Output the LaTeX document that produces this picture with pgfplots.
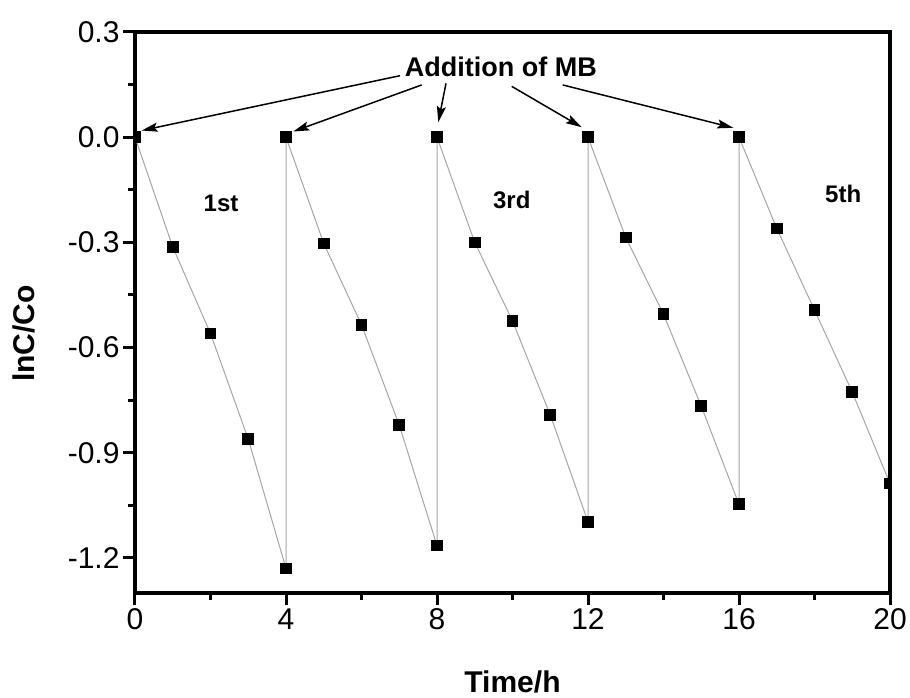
\documentclass[border=0pt]{standalone}
\usepackage{fontspec}
\setmainfont{Liberation Sans}
\usepackage{pgfplots}
\pgfplotsset{compat=1.18}
\usetikzlibrary{arrows.meta}
\pgfplotsset{
  every tick/.append style={line width=3pt, black},
  every major tick/.append style={line width=3pt, black},
  every minor tick/.append style={line width=3pt, black},
}

\begin{document}
\begin{tikzpicture}
\useasboundingbox (-135pt,-104pt) rectangle (775pt,593pt);
\begin{axis}[
    at={(0pt,0pt)}, anchor=south west,
    scale only axis,
    width=755pt, height=561pt,
    xmin=0, xmax=20, ymin=-1.3, ymax=0.3,
    xtick={0,4,...,20}, ytick={0.3,0,-0.3,-0.6,-0.9,-1.2},
    minor x tick num=1, minor y tick num=1,
    xtick pos=bottom, ytick pos=left,
    tick align=outside,
    major tick length=12pt, minor tick length=7pt,
    xtick style={line width=3pt, black},
    ytick style={line width=3pt, black},
    axis line style={line width=3.5pt},
    /pgf/number format/assume math mode=true,
    yticklabel style={/pgf/number format/fixed, /pgf/number format/fixed zerofill, /pgf/number format/precision=1},
    tick label style={font=\fontsize{30}{32}\selectfont},
    xlabel={\textbf{Time/h}}, ylabel={\textbf{lnC/Co}},
    label style={font=\fontsize{30}{32}\selectfont},
    xlabel style={at={(axis description cs:0.5,-0.1586)}, anchor=center},
    ylabel style={at={(axis description cs:-0.147,0.4626)}, anchor=center, rotate=0},
    clip mode=individual, clip marker paths=true,
  ]
  \addplot[gray!70, line width=1pt, mark=square*, mark size=5.3pt,
           mark options={fill=black, draw=black}] coordinates {
    (0,0) (1,-0.313) (2,-0.560) (3,-0.861) (4,-1.230)
    (4,0) (5,-0.303) (6,-0.535) (7,-0.821) (8,-1.165)
    (8,0) (9,-0.300) (10,-0.524) (11,-0.792) (12,-1.097)
    (12,0) (13,-0.286) (14,-0.505) (15,-0.767) (16,-1.047)
    (16,0) (17,-0.260) (18,-0.493) (19,-0.727) (20,-0.988)
  };
  \node[font=\fontsize{27}{30}\selectfont\bfseries] at (axis cs:9.69,0.201) {Addition of MB};
  \node[font=\fontsize{24}{26}\selectfont\bfseries] at (axis cs:2.28,-0.188) {1st};
  \node[font=\fontsize{24}{26}\selectfont\bfseries] at (axis cs:9.98,-0.178) {3rd};
  \node[font=\fontsize{24}{26}\selectfont\bfseries] at (axis cs:18.76,-0.161) {5th};
  \begin{scope}[line width=1.5pt, -{Stealth[length=16pt,width=9pt,inset=3pt]}]
    \draw (axis cs:7.020,0.1754) -- (axis cs:0.177,0.019);
    \draw (axis cs:7.595,0.149) -- (axis cs:4.193,0.0162);
    \draw (axis cs:8.238,0.1535) -- (axis cs:8.034,0.0426);
    \draw (axis cs:9.979,0.145) -- (axis cs:11.833,0.0284);
    \draw (axis cs:11.33,0.149) -- (axis cs:15.849,0.0267);
  \end{scope}
\end{axis}
\end{tikzpicture}
\end{document}
